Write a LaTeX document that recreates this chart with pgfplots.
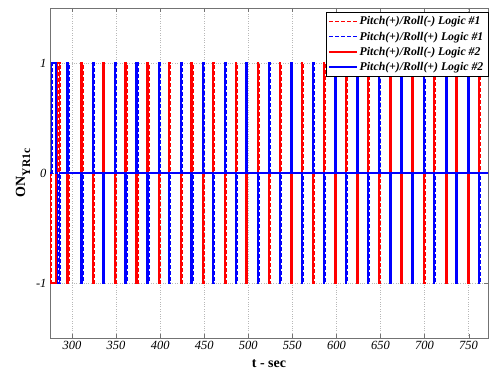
\documentclass[border=0pt]{standalone}
\usepackage{fontspec}
\setmainfont{Liberation Serif}
\usepackage{pgfplots}
\usepackage{pgfplotstable}
\pgfplotsset{compat=1.18}
\tikzset{ldash/.style={dash pattern=on 4pt off 2pt}}
\pgfplotstableread{
t b r
275 0 0
275.6 0 -1
276.5 1 -1
282 0 0
283.5 -1 1
286 0 0
294.4 1 -1
295.6 0 0
310.4 -1 1
311.6 0 0
322.9 1 -1
324.1 0 0
334.9 -1 1
336.1 0 0
348.1 1 -1
349.3 0 0
360.3 -1 1
361.5 0 0
372.8 1 -1
374 0 0
385.2 -1 1
386.4 0 0
398 1 -1
399.2 0 0
409.7 -1 1
410.9 0 0
423 1 -1
424.2 0 0
435.1 -1 1
436.3 0 0
448.3 1 -1
449.5 0 0
459.6 -1 1
460.8 0 0
472.9 1 -1
474.1 0 0
485.3 -1 1
486.5 0 0
497.4 1 -1
498.6 0 0
510.6 -1 1
511.8 0 0
523.1 1 -1
524.3 0 0
535.2 -1 1
536.4 0 0
548.5 1 -1
549.7 0 0
560.5 -1 1
561.7 0 0
573 1 -1
574.2 0 0
585.5 -1 1
586.7 0 0
598.4 1 -1
599.6 0 0
610.1 -1 1
611.3 0 0
623.3 1 -1
624.5 0 0
635.4 -1 1
636.6 0 0
647.8 1 -1
649 0 0
660.7 -1 1
661.9 0 0
673.2 1 -1
674.4 0 0
685.7 -1 1
686.9 0 0
698.8 1 -1
700 0 0
710.2 -1 1
711.4 0 0
724.2 1 -1
725.4 0 0
735.6 -1 1
736.8 0 0
749.2 1 -1
750.4 0 0
760.9 -1 1
762.1 0 0
772 0 0
}\pulses
\begin{document}
\begin{tikzpicture}
\begin{axis}[
  scale only axis, width=438pt, height=330pt,
  xmin=275, xmax=772, ymin=-1.5, ymax=1.5,
  xtick={300,350,...,750}, ytick={-1,0,1},
  grid=major, grid style={dotted, black!28, line width=0.5pt},
  tick align=inside,
  axis line style={black!55},
  major tick style={black!55}, major tick length=4pt,
  tick label style={font=\fontsize{12.5}{14}\selectfont\itshape},
  /pgf/number format/assume math mode=true,
  /pgf/number format/1000 sep={},
  xlabel={\textbf{t - sec}},
  ylabel={\textbf{ON}\raisebox{-5pt}{\fontsize{11.5}{13}\selectfont\textbf{YR1c}}},
  label style={font=\fontsize{14}{16}\selectfont},
  xlabel style={yshift=-3pt},
  ylabel style={yshift=-1pt},
  legend style={at={(1,1)}, anchor=north east, yshift=-4pt,
    font=\fontsize{11.8}{14}\selectfont\bfseries\itshape, draw=black,
    cells={anchor=west}, row sep=1.5pt, inner sep=2.5pt},
]
\addplot[red, line width=1.4pt, ldash, const plot, forget plot] table[x expr=\thisrow{t}+0.8, y=r] {\pulses};
\addplot[blue, line width=1.4pt, ldash, const plot, forget plot] table[x expr=\thisrow{t}+0.8, y=b] {\pulses};
\addplot[red, line width=1.4pt, const plot, forget plot] table[x=t, y=r] {\pulses};
\addplot[blue, line width=1.4pt, const plot, forget plot] table[x=t, y=b] {\pulses};
\addlegendimage{legend image code/.code={\foreach \d in {0,6,12,18,24} {\draw[red, line width=1.4pt] (\d pt,0pt) -- ++(4pt,0pt);}}}
\addlegendentry{Pitch(+)/Roll(-) Logic \#1}
\addlegendimage{legend image code/.code={\foreach \d in {0,6,12,18,24} {\draw[blue, line width=1.4pt] (\d pt,0pt) -- ++(4pt,0pt);}}}
\addlegendentry{Pitch(+)/Roll(+) Logic \#1}
\addlegendimage{legend image code/.code={\draw[red, line width=1.4pt] (0pt,0pt) -- (28pt,0pt);}}
\addlegendentry{Pitch(+)/Roll(-) Logic \#2}
\addlegendimage{legend image code/.code={\draw[blue, line width=1.4pt] (0pt,0pt) -- (28pt,0pt);}}
\addlegendentry{Pitch(+)/Roll(+) Logic \#2}
\end{axis}
\path ([shift={(-50pt,-34pt)}]current axis.south west) rectangle ([shift={(1pt,8pt)}]current axis.north east);
\end{tikzpicture}
\end{document}
